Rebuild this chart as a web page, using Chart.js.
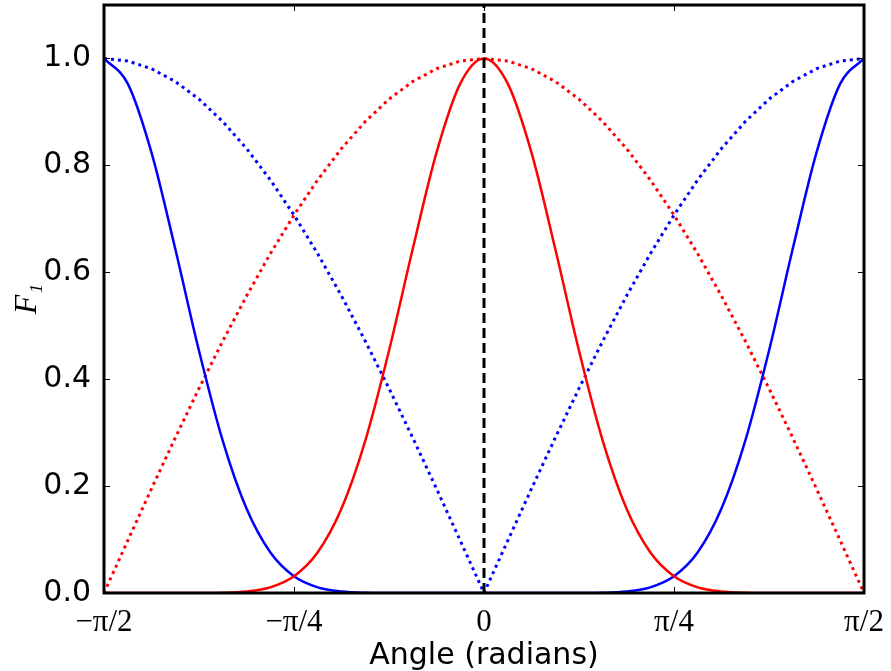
<!DOCTYPE html>
<html>
<head>
<meta charset="utf-8">
<script src="https://cdn.jsdelivr.net/npm/chart.js@4"></script>
<style>
  html, body { margin: 0; background: #fff; }
  #wrap { width: 891px; height: 671px; }
</style>
</head>
<body>
<div id="wrap"><canvas id="chart"></canvas></div>
<script>
// angle in radians, steps of pi/32
const angles = [-1.5708, -1.4726, -1.3744, -1.2763, -1.1781, -1.0799, -0.9817, -0.8836, -0.7854,
  -0.6872, -0.5890, -0.4909, -0.3927, -0.2945, -0.1963, -0.0982, 0,
  0.0982, 0.1963, 0.2945, 0.3927, 0.4909, 0.5890, 0.6872, 0.7854,
  0.8836, 0.9817, 1.0799, 1.1781, 1.2763, 1.3744, 1.4726, 1.5708];

// dotted red
const redDotted = [0, 0.0980, 0.1951, 0.2903, 0.3827, 0.4714, 0.5556, 0.6344, 0.7071,
  0.7730, 0.8315, 0.8819, 0.9239, 0.9569, 0.9808, 0.9952, 1,
  0.9952, 0.9808, 0.9569, 0.9239, 0.8819, 0.8315, 0.7730, 0.7071,
  0.6344, 0.5556, 0.4714, 0.3827, 0.2903, 0.1951, 0.0980, 0];

// dotted blue
const blueDotted = [1, 0.9952, 0.9808, 0.9569, 0.9239, 0.8819, 0.8315, 0.7730, 0.7071,
  0.6344, 0.5556, 0.4714, 0.3827, 0.2903, 0.1951, 0.0980, 0,
  0.0980, 0.1951, 0.2903, 0.3827, 0.4714, 0.5556, 0.6344, 0.7071,
  0.7730, 0.8315, 0.8819, 0.9239, 0.9569, 0.9808, 0.9952, 1];

// solid red
const redSolid = [0, 0, 0, 0, 0.0001, 0.0005, 0.0028, 0.0106, 0.0313,
  0.0762, 0.1579, 0.2846, 0.4531, 0.6439, 0.8237, 0.9528, 1,
  0.9528, 0.8237, 0.6439, 0.4531, 0.2846, 0.1579, 0.0762, 0.0313,
  0.0106, 0.0028, 0.0005, 0.0001, 0, 0, 0, 0];

// solid blue
const blueSolid = [1, 0.9528, 0.8237, 0.6439, 0.4531, 0.2846, 0.1579, 0.0762, 0.0313,
  0.0106, 0.0028, 0.0005, 0.0001, 0, 0, 0, 0,
  0, 0, 0, 0.0001, 0.0005, 0.0028, 0.0106, 0.0313,
  0.0762, 0.1579, 0.2846, 0.4531, 0.6439, 0.8237, 0.9528, 1];

const centreAngle = [0, 0];
const centreLevel = [0, 1.1];

const xTickValues = [-1.5708, -0.7854, 0, 0.7854, 1.5708];
const xTickLabels = ['\u2212\u03c0/2', '\u2212\u03c0/4', '0', '\u03c0/4', '\u03c0/2'];
const yTickValues = [0, 0.2, 0.4, 0.6, 0.8, 1.0];
const yMax = 1.1;

function toPoints(xs, ys) {
  return xs.map((x, i) => ({x: x, y: ys[i]}));
}

// box round the plot and inward ticks on all four sides
const framePlugin = {
  id: 'frame',
  afterDatasetsDraw(chart) {
    const ctx = chart.ctx;
    const a = chart.chartArea;
    const xs = chart.scales.x, ys = chart.scales.y;
    const len = 6;
    ctx.save();
    ctx.strokeStyle = '#000';
    ctx.lineWidth = 1;
    ctx.beginPath();
    xs.ticks.forEach(t => {
      const px = Math.round(xs.getPixelForValue(t.value)) + 0.5;
      ctx.moveTo(px, a.bottom); ctx.lineTo(px, a.bottom - len);
      ctx.moveTo(px, a.top); ctx.lineTo(px, a.top + len);
    });
    ys.ticks.forEach(t => {
      const py = Math.round(ys.getPixelForValue(t.value)) + 0.5;
      ctx.moveTo(a.left, py); ctx.lineTo(a.left + len, py);
      ctx.moveTo(a.right, py); ctx.lineTo(a.right - len, py);
    });
    ctx.stroke();
    ctx.lineWidth = 3;
    ctx.strokeRect(a.left, a.top, a.right - a.left, a.bottom - a.top);
    ctx.restore();
  }
};

const solid = {borderWidth: 2.5, pointRadius: 0, fill: false, cubicInterpolationMode: 'monotone'};
const dotted = {borderWidth: 3, pointRadius: 0, fill: false, tension: 0, borderDash: [3, 4]};

new Chart(document.getElementById('chart'), {
  type: 'scatter',
  data: {
    datasets: [
      {data: toPoints(centreAngle, centreLevel), showLine: true, borderColor: '#000',
       borderWidth: 3, borderDash: [10, 5], pointRadius: 0, order: 0},
      Object.assign({data: toPoints(angles, redSolid), showLine: true, borderColor: '#ff0000', order: 1}, solid),
      Object.assign({data: toPoints(angles, blueSolid), showLine: true, borderColor: '#0000ff', order: 2}, solid),
      Object.assign({data: toPoints(angles, redDotted), showLine: true, borderColor: '#ff0000', order: 3}, dotted),
      Object.assign({data: toPoints(angles, blueDotted), showLine: true, borderColor: '#0000ff', order: 4}, dotted)
    ]
  },
  options: {
    responsive: true,
    maintainAspectRatio: false,
    animation: false,
    layout: {autoPadding: false, padding: {top: 5, right: 27, left: 0, bottom: 0}},
    plugins: {legend: {display: false}, tooltip: {enabled: false}},
    scales: {
      x: {
        type: 'linear',
        min: xTickValues[0],
        max: xTickValues[xTickValues.length - 1],
        grid: {display: false},
        border: {display: false},
        afterBuildTicks: axis => { axis.ticks = xTickValues.map(v => ({value: v})); },
        afterFit: axis => {
          axis.height = 78;
          axis.paddingLeft = 0; axis.paddingRight = 0;
        },
        ticks: {
          color: '#000',
          padding: 3,
          maxRotation: 0,
          font: {family: '"Liberation Serif", serif', size: 31},
          callback: (v, i) => xTickLabels[i]
        },
        title: {
          display: true,
          text: 'Angle (radians)',
          color: '#000',
          padding: {top: 0, bottom: -2},
          font: {family: '"DejaVu Sans", sans-serif', size: 30, lineHeight: 1.1}
        }
      },
      y: {
        type: 'linear',
        min: 0,
        max: yMax,
        grid: {display: false},
        border: {display: false},
        afterBuildTicks: axis => { axis.ticks = yTickValues.map(v => ({value: v})); },
        afterFit: axis => {
          axis.width = 104;
          axis.paddingTop = 0; axis.paddingBottom = 0;
        },
        ticks: {
          color: '#000',
          padding: 5,
          font: {family: '"DejaVu Sans", sans-serif', size: 30},
          callback: v => v.toFixed(1)
        },
        title: {
          display: true,
          text: 'F\u2081',
          color: '#000',
          padding: {top: 10, bottom: 0},
          font: {family: '"Liberation Serif", serif', style: 'italic', size: 32, lineHeight: 1.1}
        }
      }
    }
  },
  plugins: [framePlugin]
});
</script>
</body>
</html>
